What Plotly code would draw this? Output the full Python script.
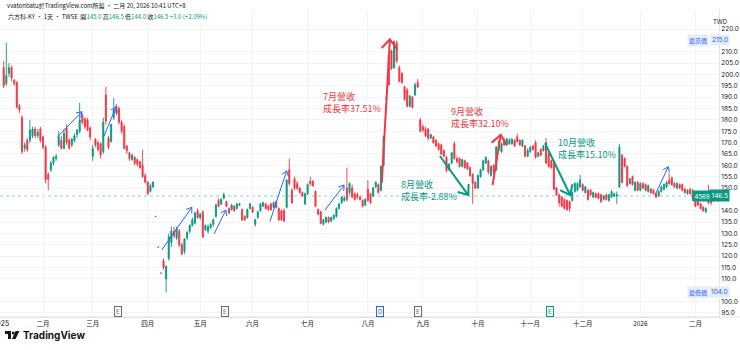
import math
import plotly.graph_objects as go

# ---------------- data (daily bars, 六方科-KY) ----------------
month_labels = ["二月", "三月", "四月", "五月", "六月", "七月", "八月", "九月", "十月",
                "十一月", "十二月", "2026", "二月"]
month_counts = [15, 19, 21, 20, 20, 21, 23, 21, 21, 20, 20, 22, 21, 8]

open_p = [
    203, 196, 200.5, 203, 197.5, 196.5, 186, 181, 167.5, 171, 171, 173, 176, 173, 176,
    172.5, 168, 156, 158, 161, 163, 169, 171, 167.5, 176.5, 171, 169, 171, 173.5, 175, 182, 180.5, 180, 176.5,
    164, 171.5, 170, 169.5, 166, 191, 172, 170.5, 181, 186, 185, 179, 177, 168.5, 165.5, 162.5, 163.5, 162.5, 161.5, 160, 155.5,
    152.6, 148.5, 150.5, 137.5, 124, 112.5, 118, 110, 119, 126, 131, 128, 131, 125, 122, 128, 131, 133.5, 134.5, 140,
    137, 139.5, 131.5, 131, 132.5, 134, 137.5, 144.5, 143, 145.5, 144, 141, 140.5, 142, 141, 142.5, 140.5, 137.5, 137, 141,
    141.5, 134, 137, 140, 142, 143, 142, 143, 141.5, 144, 141, 140, 140, 141.5, 158, 149, 154, 152, 150, 148, 143,
    147.5, 153, 153, 148.5, 140.5, 139.5, 134, 135, 137, 135.5, 136.5, 137.5, 141, 143.5, 144.5, 150, 148, 150, 147.5, 147, 146, 144.5, 142.5,
    149.5, 147.5, 146.5, 150.5, 151.5, 149, 160, 189.7, 208.7, 210.5, 203, 214, 203, 200.5, 194.5, 193, 186, 190, 191, 196.5, 180,
    177, 176, 176, 172, 172.5, 171, 169.5, 169, 166.5, 163.5, 158, 161, 169.5, 163, 163, 159.5, 162, 161, 159, 156, 152.5,
    150, 155, 158, 161, 162, 155.5, 160, 158, 167, 166, 171, 169, 169.5, 169.5, 171, 172.5, 171, 168.5, 168.5, 164,
    166, 168.5, 170, 164, 167, 166.5, 170, 165, 162, 161, 150, 147, 146, 145, 144.5, 144, 144.5, 148.5, 149, 150.5,
    151.5, 148, 149, 149, 146, 147.5, 147.5, 147, 145, 147, 144.5, 146, 146.5, 146.5, 150.5, 164.5, 163, 159.5, 152, 155, 149, 152.5,
    149, 152, 151.5, 148.5, 149.5, 149, 147.5, 146.5, 148.5, 149.5, 150.5, 153.5, 154.5, 152, 150, 151.5, 151.5, 149.5, 147.5, 149.5, 149,
    145.5, 144.5, 143, 141.5, 139.5, 144.5, 145, 145,
]
high_p = [
    206, 214, 205, 204, 198, 197, 187, 182, 170, 172, 180, 177, 177, 176, 177,
    173, 169, 157, 162, 164, 165, 175, 173, 176, 178, 172, 172, 174, 176, 187.5, 183, 181, 181, 177,
    169, 172, 171, 170, 181, 194.5, 173, 178, 189.7, 187, 186, 180, 178, 169, 166, 165, 164, 163, 162, 166.8, 156.5,
    153, 152, 153, 137.5, 124, 112.5, 119, 116, 130, 133, 133, 133, 132, 126, 128, 131, 134, 137, 139.5, 141,
    139, 140, 134, 134, 134.5, 136.5, 143, 145.5, 145.5, 148, 144.5, 141.5, 143, 142.5, 143.5, 143.5, 141, 138, 141, 143.5,
    142, 136.5, 140, 143.5, 144, 143.5, 142.5, 143.5, 144, 144.5, 141.5, 140.5, 141, 154, 163, 150, 155, 153, 150.5, 148.5, 148,
    152, 155, 153.5, 149, 141, 140, 136.5, 137.5, 137.5, 137.5, 138.5, 141.5, 143.5, 146.5, 146.5, 159, 152.5, 151.5, 148, 148, 146.5, 145, 145.5,
    153.5, 148, 150.5, 153, 152, 160, 173, 189.7, 208.7, 211, 215, 215, 204, 201, 195, 194, 191, 190.5, 196.5, 198, 181,
    178, 177, 176.5, 174, 173, 171.5, 170, 169.5, 167, 164, 161, 166, 170.5, 164, 163.5, 163, 162.5, 161.5, 159.5, 156.5, 153,
    156, 158.5, 162.5, 164, 162.5, 160, 160.5, 168.5, 171, 170, 172, 172, 172, 172, 171.5, 174, 171.5, 171.5, 169, 167.5,
    168.5, 169, 171, 166, 167.5, 169, 172, 165.5, 162.5, 161.5, 150.5, 147.5, 146.5, 145.5, 145, 144.5, 148.5, 152.5, 152.5, 155.8,
    152, 151, 149.5, 149.5, 148.5, 148, 148, 147.5, 147, 147.5, 147.5, 149, 148, 148.5, 169.5, 165, 163.5, 160, 154.5, 155.5, 153, 153,
    152.5, 152.5, 152, 151.5, 150, 149.5, 148, 149, 151, 152, 153, 156.5, 155, 152.5, 152.5, 152, 152, 150, 149.5, 150, 149.5,
    146, 145, 143.5, 142, 141.5, 151.5, 145.5, 146.5,
]
low_p = [
    194, 195, 199, 197, 195, 185, 183, 165, 166, 166, 170, 172, 172, 172, 170,
    167, 152, 149, 157, 160, 162, 168, 167, 167, 169, 167, 168, 170, 172, 174, 178, 176, 175, 171,
    162, 168, 166, 163, 165, 178, 167, 170, 180, 182, 178, 174, 167, 165, 162, 162, 160, 159.5, 158.5, 154.5, 152,
    147, 148, 150, 137.5, 124, 112.5, 114, 104, 118, 124, 128, 127, 124, 120.5, 121, 127, 130, 133, 134, 136.5,
    136, 128, 131, 130, 132, 133, 137, 141.5, 142.5, 145, 141.5, 138.5, 140, 139.5, 140.5, 142, 135.5, 135.5, 136.5, 140.5,
    139, 133, 136.5, 139.5, 141.5, 140.5, 140, 140, 141, 141, 135.5, 135.5, 135, 141, 151, 143, 149, 149, 147.5, 146, 142.5,
    147, 151, 150.5, 141.5, 138, 134, 133.5, 134.5, 134.5, 135, 136, 137, 140.5, 143, 144, 144, 147, 145.5, 144.5, 145, 144.5, 141.5, 142,
    144, 143, 146, 150, 147.5, 148.5, 159.5, 189.7, 195, 202, 202.5, 205, 196.5, 196, 188.5, 185.5, 185.5, 185, 190.5, 194, 174.5,
    174.5, 172.5, 171, 171.5, 169.5, 168, 166.5, 164.5, 163.5, 157, 157.5, 160.5, 162.5, 161, 159, 159, 158.5, 158, 155, 143, 149.5,
    149.5, 154.5, 157.5, 160.5, 156, 155, 156, 157.5, 166.5, 165.5, 168.5, 168.5, 169, 169, 168, 170, 168.5, 168, 163.5, 163.5,
    165.5, 166.5, 163, 163.5, 164, 166, 160.5, 159, 158.5, 149, 146.5, 141.8, 141.5, 140.5, 140, 139.5, 144, 148, 148.5, 150,
    148.5, 147.5, 144.5, 146.5, 145.5, 145.5, 145, 143.5, 144.5, 144.5, 144, 145.5, 146, 143, 150, 152, 159, 150.5, 151.5, 151, 148.5, 148.5,
    148.5, 149.5, 148.5, 148, 147.5, 147, 145.5, 146, 148, 149, 150, 151.5, 151, 150, 149.5, 149.5, 148.5, 147.5, 147, 147, 144.5,
    141.5, 142, 140.5, 139.5, 139, 143, 142.5, 144,
]
close_p = [
    195, 199.5, 203, 198.5, 196, 185.7, 184.5, 166, 169, 167, 175.5, 176, 173, 174.5, 171,
    168, 153.6, 154, 161, 163.5, 164, 172.5, 167.5, 174, 170, 167.5, 171.5, 173, 175.5, 180, 179, 177, 175.5, 172.5,
    167.5, 169, 167, 164.5, 179, 179.5, 168, 178, 184.5, 183, 179, 175, 167.5, 166.5, 163, 164.5, 161, 160.5, 159, 155, 152.6,
    147.5, 151, 152.5, 137.5, 124, 112.5, 115, 115.5, 128.5, 131, 129, 132, 125, 121, 127.5, 130.5, 133.5, 136, 139, 137,
    138.5, 128.5, 133.5, 133, 134, 136, 142.5, 142, 145, 147, 142, 139, 142.5, 140, 143, 143, 136, 136, 140.5, 143,
    139.5, 136, 139.5, 143, 143.5, 141, 140.5, 140.5, 143.5, 141.5, 136, 136, 135.5, 153.5, 152, 143.5, 150, 150, 148, 146.5, 147.5,
    151.5, 152, 151, 142, 138.5, 134.5, 136, 137, 135, 137, 138, 141, 143, 146, 145.5, 145, 152, 146, 145, 146, 145, 142, 145,
    144.5, 143.5, 150, 152.5, 148, 159.5, 172.5, 189.7, 195.5, 202.5, 214.5, 206, 197, 196.5, 189, 186, 190.5, 185.5, 195.5, 194.5, 175,
    175.5, 173, 172, 173.5, 170, 168.5, 167, 165, 164, 157.5, 160.5, 165.5, 163, 161.5, 159.5, 162.5, 159, 158.5, 155.5, 152, 150,
    155.5, 158, 162, 163.5, 157, 159.5, 157, 168, 170.5, 169.5, 169, 171.5, 171, 171.5, 168.5, 170.5, 169, 171, 164, 166.5,
    168, 167, 163.5, 165.5, 164.5, 168.5, 161, 159.5, 159, 149.5, 147, 143.5, 142, 141, 140.5, 141, 148, 152, 152, 153.5,
    149, 150.5, 145, 147, 148, 146, 145.5, 144, 146.5, 145, 147, 148.5, 147.5, 147, 168, 152.5, 159.5, 151, 154, 151.5, 152.5, 149,
    152, 150, 149, 151, 148, 147.5, 146, 148.5, 150.5, 151.5, 152.5, 152, 151.5, 150.5, 152, 150, 149, 148, 149, 147.5, 145,
    142, 142.5, 141, 140, 141, 143.5, 143.5, 146.5,
]

# 105 / 145 / 215 are covered by the low, last-price and high labels, as in the original
price_ticks = [95, 100, 110, 115, 120, 125, 130, 135, 140, 150, 155, 160, 165, 170,
               175, 180, 185, 190, 195, 200, 205, 210, 220]
last_price = 146.5
high_mark = 215.0
low_mark = 104.0

# user drawings (bar index, price)
blue_arrows = [
    (20.6, 172.6, 29.8, 183.6), (38.3, 172.9, 42.9, 185.8), (60.3, 122.7, 71.8, 141.5),
    (80.3, 129.8, 84.8, 140.3), (101.6, 135.2, 108.0, 157.6), (122.6, 140.3, 129.9, 151.3),
    (248.6, 146.9, 253.7, 159.4),
]
red_arrows = [(144.3, 152.1, 147.4, 215.5), (186.6, 151.3, 189.7, 173.4)]
green_arrows = [(166.5, 164.1, 177.3, 146.9), (206.6, 169.7, 216.2, 146.9)]
notes = [
    (121.5, 187.7, "7月營收<br>成長率37.51%", "red"),
    (170.3, 180.9, "9月營收<br>成長率32.10%", "red"),
    (151.3, 148.9, "8月營收<br>成長率-2.88%", "green"),
    (211.2, 167.6, "10月營收<br>成長率15.10%", "green"),
]
events = [(43.6, "E", "gray"), (84.5, "E", "gray"), (143.6, "D", "blue"),
          (158.1, "E", "gray"), (208.5, "E", "green")]

# ---------------- geometry ----------------
W, H = 740, 350
ML, MR, MT, MB = 0, 21, 10, 33
PLOT_W, PLOT_H = W - ML - MR, H - MT - MB
PX_PER_BAR, FIRST_BAR_PX = 2.62, 3.7
X_LO = -FIRST_BAR_PX / PX_PER_BAR
X_HI = X_LO + PLOT_W / PX_PER_BAR
Y_LO, Y_HI = 93.2, 228.4
SY = PLOT_H / (Y_HI - Y_LO)

UP, DOWN = "#089981", "#f23645"
RED_T, GREEN_T, BLUE = "#f23645", "#089981", "#2962ff"
FONT = "Inter, 'Noto Sans CJK TC', sans-serif"
CJK = "'Noto Sans CJK TC', Inter, sans-serif"


def pxx(x):
    return (x - ML) / PLOT_W


def pxy(y):
    return 1 - (y - MT) / PLOT_H


x_idx = list(range(len(close_p)))
starts = [0]
for c in month_counts[:-1]:
    starts.append(starts[-1] + c)
tick_vals = starts[1:]

fig = go.Figure(go.Candlestick(
    x=x_idx, open=open_p, high=high_p, low=low_p, close=close_p,
    increasing=dict(line=dict(color=UP, width=0.9), fillcolor=UP),
    decreasing=dict(line=dict(color=DOWN, width=0.9), fillcolor=DOWN),
    whiskerwidth=0, hoverinfo="skip", showlegend=False,
))

shapes = []
annotations = []

# last price line
shapes.append(dict(type="line", xref="paper", yref="y", x0=0, x1=1, y0=last_price, y1=last_price,
                   line=dict(color="rgba(8,153,129,0.45)", width=1, dash="dot"), layer="below"))
# axis separator extended under the price scale
shapes.append(dict(type="line", xref="paper", yref="paper", x0=0, x1=W / PLOT_W, y0=0, y1=0,
                   line=dict(color="#e0e3eb", width=1)))


def arrow(i0, p0, i1, p1, color, width, head, ang):
    X0, Y0 = i0 * PX_PER_BAR, -p0 * SY
    X1, Y1 = i1 * PX_PER_BAR, -p1 * SY
    dx, dy = X1 - X0, Y1 - Y0
    L = math.hypot(dx, dy)
    ux, uy = -dx / L, -dy / L
    pts = []
    for s in (1, -1):
        a = math.radians(ang * s)
        wx = ux * math.cos(a) - uy * math.sin(a)
        wy = ux * math.sin(a) + uy * math.cos(a)
        pts.append(((X1 + wx * head) / PX_PER_BAR, -(Y1 + wy * head) / SY))
    shapes.append(dict(type="line", xref="x", yref="y", x0=i0, y0=p0, x1=i1, y1=p1,
                       line=dict(color=color, width=width)))
    path = f"M{pts[0][0]},{pts[0][1]} L{i1},{p1} L{pts[1][0]},{pts[1][1]}"
    shapes.append(dict(type="path", xref="x", yref="y", path=path,
                       line=dict(color=color, width=width)))


for a in blue_arrows:
    arrow(*a, BLUE, 1, 6, 35)
for a in red_arrows:
    arrow(*a, RED_T, 2, 12, 40)
for a in green_arrows:
    arrow(*a, GREEN_T, 2, 11, 38)

for i, p, t, c in notes:
    annotations.append(dict(x=i, y=p, xref="x", yref="y", text=t, showarrow=False,
                            xanchor="left", yanchor="middle", align="left", borderpad=0,
                            font=dict(family=CJK, size=9, color=RED_T if c == "red" else GREEN_T)))

# event markers
for i, t, c in events:
    col = {"gray": "#6a6d78", "blue": BLUE, "green": GREEN_T}[c]
    annotations.append(dict(x=i, y=95.6, xref="x", yref="y", text=t, showarrow=False,
                            font=dict(family=FONT, size=6, color=col), bgcolor="white",
                            bordercolor=col, borderwidth=1, borderpad=1))

# header texts
annotations.append(dict(x=pxx(5), y=pxy(6), xref="paper", yref="paper", xanchor="left", yanchor="middle",
                        showarrow=False, font=dict(family=CJK, size=6, color="#131722"),
                        text="vvatonbatu於TradingView.com所製 · 二月 20, 2026 10:41 UTC+8"))
g = "<span style='color:#089981'>"
annotations.append(dict(x=pxx(6), y=pxy(16), xref="paper", yref="paper", xanchor="left", yanchor="middle",
                        showarrow=False, font=dict(family=CJK, size=6, color="#131722"),
                        text=("六方科-KY · 1天 · TWSE  開" + g + "145.0</span> 高" + g + "146.5</span> 低"
                              + g + "144.0</span> 收" + g + "146.5 +3.0 (+2.09%)</span>")))

# price axis extras
annotations.append(dict(x=pxx(729), y=pxy(16), xref="paper", yref="paper", showarrow=False,
                        text="TWD", font=dict(family=FONT, size=6, color="#131722")))
for val, lab in ((high_mark, "最高價"), (low_mark, "最低價")):
    annotations.append(dict(x=pxx(730), y=val, xref="paper", yref="y", showarrow=False,
                            text=f"{val:.1f}", font=dict(family=FONT, size=6.5, color="#2962ff"),
                            bgcolor="#e3ebfd", borderpad=1))
    annotations.append(dict(x=pxx(709), y=val, xref="paper", yref="y", showarrow=False,
                            text=lab, font=dict(family=CJK, size=6, color="#2962ff"),
                            bgcolor="#e3ebfd", borderpad=1))
annotations.append(dict(x=pxx(730), y=last_price, xref="paper", yref="y", showarrow=False,
                        text=f"{last_price:.1f}", font=dict(family=FONT, size=6.5, color="white"),
                        bgcolor=UP, borderpad=1.5))
annotations.append(dict(x=pxx(712), y=last_price, xref="paper", yref="y", showarrow=False,
                        text="4569", font=dict(family=FONT, size=6, color="white"),
                        bgcolor=UP, borderpad=1.5))

# year label clipped at the far left edge, as in the original
annotations.append(dict(x=pxx(11), y=pxy(323), xref="paper", yref="paper", xanchor="right", yanchor="middle",
                        showarrow=False, text="2025", font=dict(family=FONT, size=7, color="#131722")))

# TradingView logo
def rect(x0, y0, x1, y1):
    shapes.append(dict(type="rect", xref="paper", yref="paper", x0=pxx(x0), x1=pxx(x1),
                       y0=pxy(y1), y1=pxy(y0), fillcolor="#131722", line=dict(width=0)))


rect(5, 331, 11, 334)
rect(8, 331, 11, 339)
shapes.append(dict(type="circle", xref="paper", yref="paper", x0=pxx(11.8), x1=pxx(14.6),
                   y0=pxy(334.6), y1=pxy(331.6), fillcolor="#131722", line=dict(width=0)))
shapes.append(dict(type="path", xref="paper", yref="paper",
                   path=f"M{pxx(15.5)},{pxy(331)} L{pxx(19.5)},{pxy(331)} L{pxx(15.5)},{pxy(339)} L{pxx(12)},{pxy(339)} Z",
                   fillcolor="#131722", line=dict(width=0)))
annotations.append(dict(x=pxx(21), y=pxy(335), xref="paper", yref="paper", xanchor="left", yanchor="middle",
                        showarrow=False, text="<b>TradingView</b>",
                        font=dict(family="Inter, Roboto, sans-serif", size=10, color="#131722")))

fig.update_layout(
    width=W, height=H, margin=dict(l=ML, r=MR, t=MT, b=MB),
    paper_bgcolor="white", plot_bgcolor="white", boxgap=0.4,
    shapes=shapes, annotations=annotations, showlegend=False,
    xaxis=dict(range=[X_LO, X_HI], tickmode="array", tickvals=tick_vals, ticktext=month_labels,
               showgrid=True, gridcolor="#f2f4f8", zeroline=False, ticks="", showline=True,
               linecolor="#e0e3eb", tickfont=dict(family=CJK, size=6.5, color="#131722"),
               rangeslider=dict(visible=False), fixedrange=True),
    yaxis=dict(range=[Y_LO, Y_HI], side="right", tickmode="array", tickvals=price_ticks,
               ticktext=[f"{v:.1f}" for v in price_ticks], showgrid=True, gridcolor="#f2f4f8",
               zeroline=False, ticks="", showline=True, linecolor="#e0e3eb", mirror=False,
               tickfont=dict(family=FONT, size=6.5, color="#131722"), fixedrange=True),
)

fig.write_html("out.html", config={"displayModeBar": False})
